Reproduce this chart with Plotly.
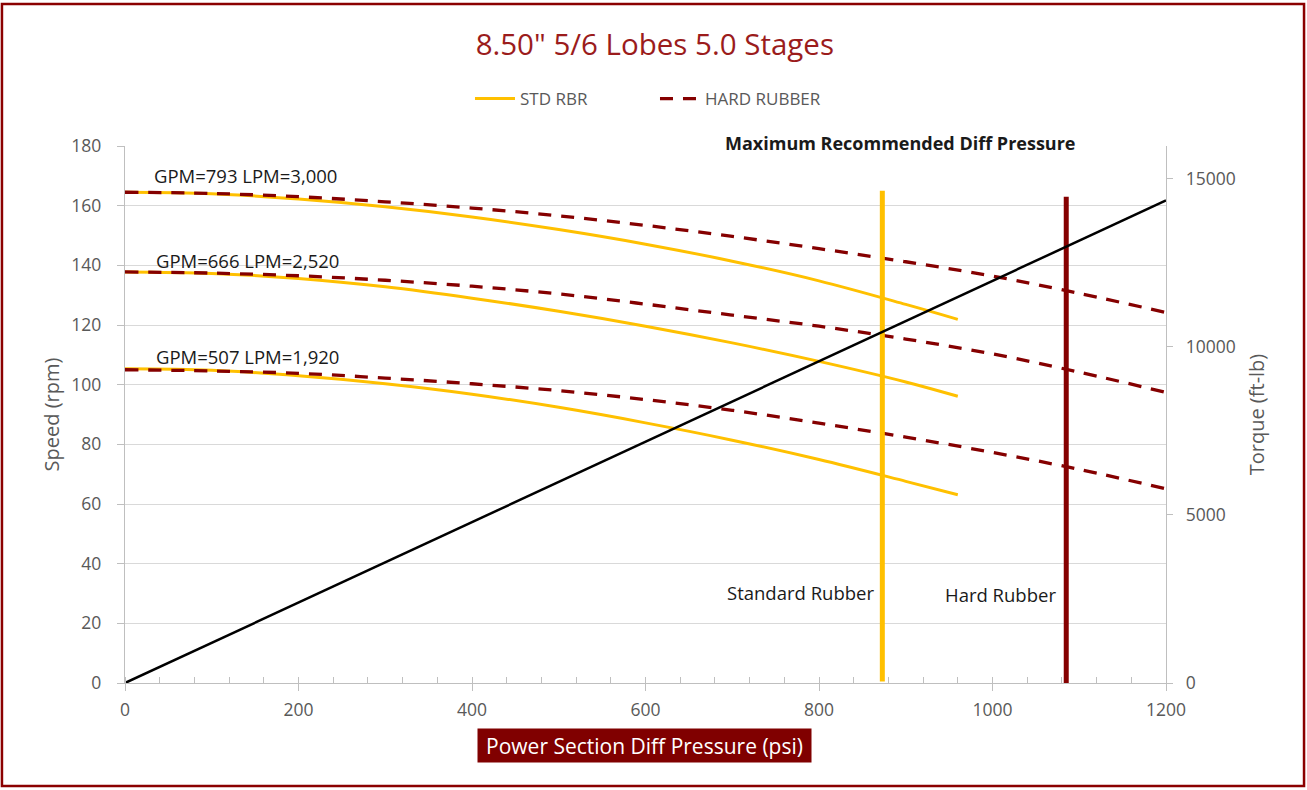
import plotly.graph_objects as go

# ---------------- data ----------------
pressure_std = [0, 100, 200, 300, 400, 500, 600, 700, 800, 900, 960]
std_793 = [164.5, 164.0, 162.2, 159.6, 156.2, 152.0, 147.1, 141.4, 134.8, 126.9, 121.9]
std_666 = [137.8, 137.3, 135.6, 132.8, 129.0, 124.6, 119.6, 114.0, 107.8, 100.9, 96.1]
std_507 = [105.3, 104.8, 103.0, 100.3, 96.8, 92.4, 87.2, 81.4, 74.9, 67.6, 63.1]

pressure_hard = [0, 100, 200, 300, 400, 500, 600, 700, 800, 900, 1000, 1100, 1200]
hard_793 = [164.5, 164.1, 163.0, 161.3, 159.2, 156.6, 153.4, 149.7, 145.6, 141.2, 136.4, 130.6, 124.2]
hard_666 = [137.8, 137.4, 136.5, 135.0, 133.0, 130.4, 127.0, 123.3, 119.6, 115.3, 110.3, 104.2, 97.4]
hard_507 = [105.0, 104.6, 103.8, 102.2, 100.3, 98.0, 95.0, 91.4, 87.1, 82.4, 77.3, 71.6, 65.1]

torque_pressure = [0, 1200]
torque_values = [0, 14360]

std_limit_x = [873, 873]
std_limit_y = [0.5, 165]
hard_limit_x = [1085, 1085]
hard_limit_y = [0, 163]

flow_labels = ["GPM=793 LPM=3,000", "GPM=666 LPM=2,520", "GPM=507 LPM=1,920"]
flow_label_x = [31, 33, 33]
flow_label_y = [170, 141.5, 109.6]

title_text = '8.50" 5/6 Lobes 5.0 Stages'

# ---------------- styles ----------------
GOLD = "#FFC000"
DRED = "#850000"
GRAY = "#595959"
FONT = "Open Sans"
TXT = "#1a1a1a"

fig = go.Figure()

for i, ys in enumerate([std_793, std_666, std_507]):
    fig.add_trace(go.Scatter(
        x=pressure_std, y=ys, mode="lines", name="STD RBR",
        line=dict(color=GOLD, width=3, shape="spline"),
        legendgroup="std", showlegend=(i == 0), hoverinfo="skip"))

for i, ys in enumerate([hard_793, hard_666, hard_507]):
    fig.add_trace(go.Scatter(
        x=pressure_hard, y=ys, mode="lines", name="HARD RUBBER",
        line=dict(color=DRED, width=3.3, dash="13px,10px", shape="spline"),
        legendgroup="hard", showlegend=(i == 0), hoverinfo="skip"))

fig.add_trace(go.Scatter(
    x=torque_pressure, y=torque_values, mode="lines", yaxis="y2",
    line=dict(color="black", width=2.5), showlegend=False, hoverinfo="skip"))

fig.add_trace(go.Scatter(
    x=std_limit_x, y=std_limit_y, mode="lines",
    line=dict(color=GOLD, width=5), showlegend=False, hoverinfo="skip"))
fig.add_trace(go.Scatter(
    x=hard_limit_x, y=hard_limit_y, mode="lines",
    line=dict(color=DRED, width=5), showlegend=False, hoverinfo="skip"))

annotations = []
for t, x, y in zip(flow_labels, flow_label_x, flow_label_y):
    annotations.append(dict(x=x, y=y, xref="x", yref="y", text=t, showarrow=False,
                            xanchor="left", yanchor="middle",
                            font=dict(family=FONT, size=18.5, color=TXT)))
annotations.append(dict(x=894, y=1.0056, xref="x", yref="paper",
                        text="<b>Maximum Recommended Diff Pressure</b>", showarrow=False,
                        xanchor="center", yanchor="middle",
                        font=dict(family=FONT, size=18, color=TXT)))
annotations.append(dict(x=866, y=30.5, xref="x", yref="y", text="Standard Rubber",
                        showarrow=False, xanchor="right", yanchor="middle",
                        font=dict(family=FONT, size=18.5, color=TXT)))
annotations.append(dict(x=1009, y=29.8, xref="x", yref="y", text="Hard Rubber",
                        showarrow=False, xanchor="center", yanchor="middle",
                        font=dict(family=FONT, size=18.5, color=TXT)))
annotations.append(dict(x=0.4995, y=-0.1155, xref="paper", yref="paper",
                        text="Power Section Diff Pressure (psi)", showarrow=False,
                        xanchor="center", yanchor="middle", bgcolor="#800000",
                        width=327, height=27, borderpad=3,
                        font=dict(family=FONT, size=21, color="white")))

fig.update_layout(
    width=1307, height=790,
    margin=dict(l=125, r=141, t=146, b=107),
    paper_bgcolor="white", plot_bgcolor="white",
    font=dict(family=FONT, color=GRAY),
    title=dict(text=title_text, x=0.501, xanchor="center", y=0.944, yanchor="middle",
               font=dict(family=FONT, size=29.5, color="#9B1C1C")),
    showlegend=True,
    legend=dict(orientation="h", x=0.3314, xanchor="left", y=1.0875, yanchor="middle",
                entrywidth=130, itemwidth=40,
                font=dict(family=FONT, size=17, color=GRAY), bgcolor="rgba(0,0,0,0)"),
    xaxis=dict(range=[0, 1200], tick0=0, dtick=200, showgrid=False, zeroline=False,
               showline=True, linecolor="#BFBFBF", linewidth=1.3,
               ticks="outside", ticklen=7, tickcolor="#BFBFBF", ticklabelstandoff=4,
               minor=dict(dtick=40, ticks="inside", ticklen=6, tickcolor="#BFBFBF", showgrid=False),
               tickfont=dict(family=FONT, size=17.5, color=GRAY)),
    yaxis=dict(range=[0, 180], dtick=20, showgrid=True, gridcolor="#D9D9D9", gridwidth=1.3,
               zeroline=False, showline=True, linecolor="#BFBFBF", linewidth=1.3,
               ticks="outside", ticklen=7, tickcolor="#BFBFBF", ticklabelstandoff=12,
               tickfont=dict(family=FONT, size=17.5, color=GRAY),
               title=dict(text="Speed (rpm)", standoff=6,
                          font=dict(family=FONT, size=20, color=GRAY))),
    yaxis2=dict(range=[0, 15980], dtick=5000, tickformat="d", overlaying="y", side="right",
                showgrid=False, zeroline=False, showline=True, linecolor="#BFBFBF", linewidth=1.3,
                ticks="outside", ticklen=6, tickcolor="#BFBFBF", ticklabelstandoff=9,
                tickfont=dict(family=FONT, size=17.5, color=GRAY),
                title=dict(text="Torque (ft-lb)", standoff=15,
                           font=dict(family=FONT, size=20, color=GRAY))),
    annotations=annotations,
    shapes=[dict(type="rect", xref="paper", yref="paper",
                 x0=-0.1182, x1=1.1326, y0=-0.1918, y1=1.2644,
                 line=dict(color="#8B0000", width=2.5), fillcolor="rgba(0,0,0,0)", layer="below")],
)

fig.write_html("out.html", config={"displayModeBar": False},
               post_script="document.body.style.margin='0';")
